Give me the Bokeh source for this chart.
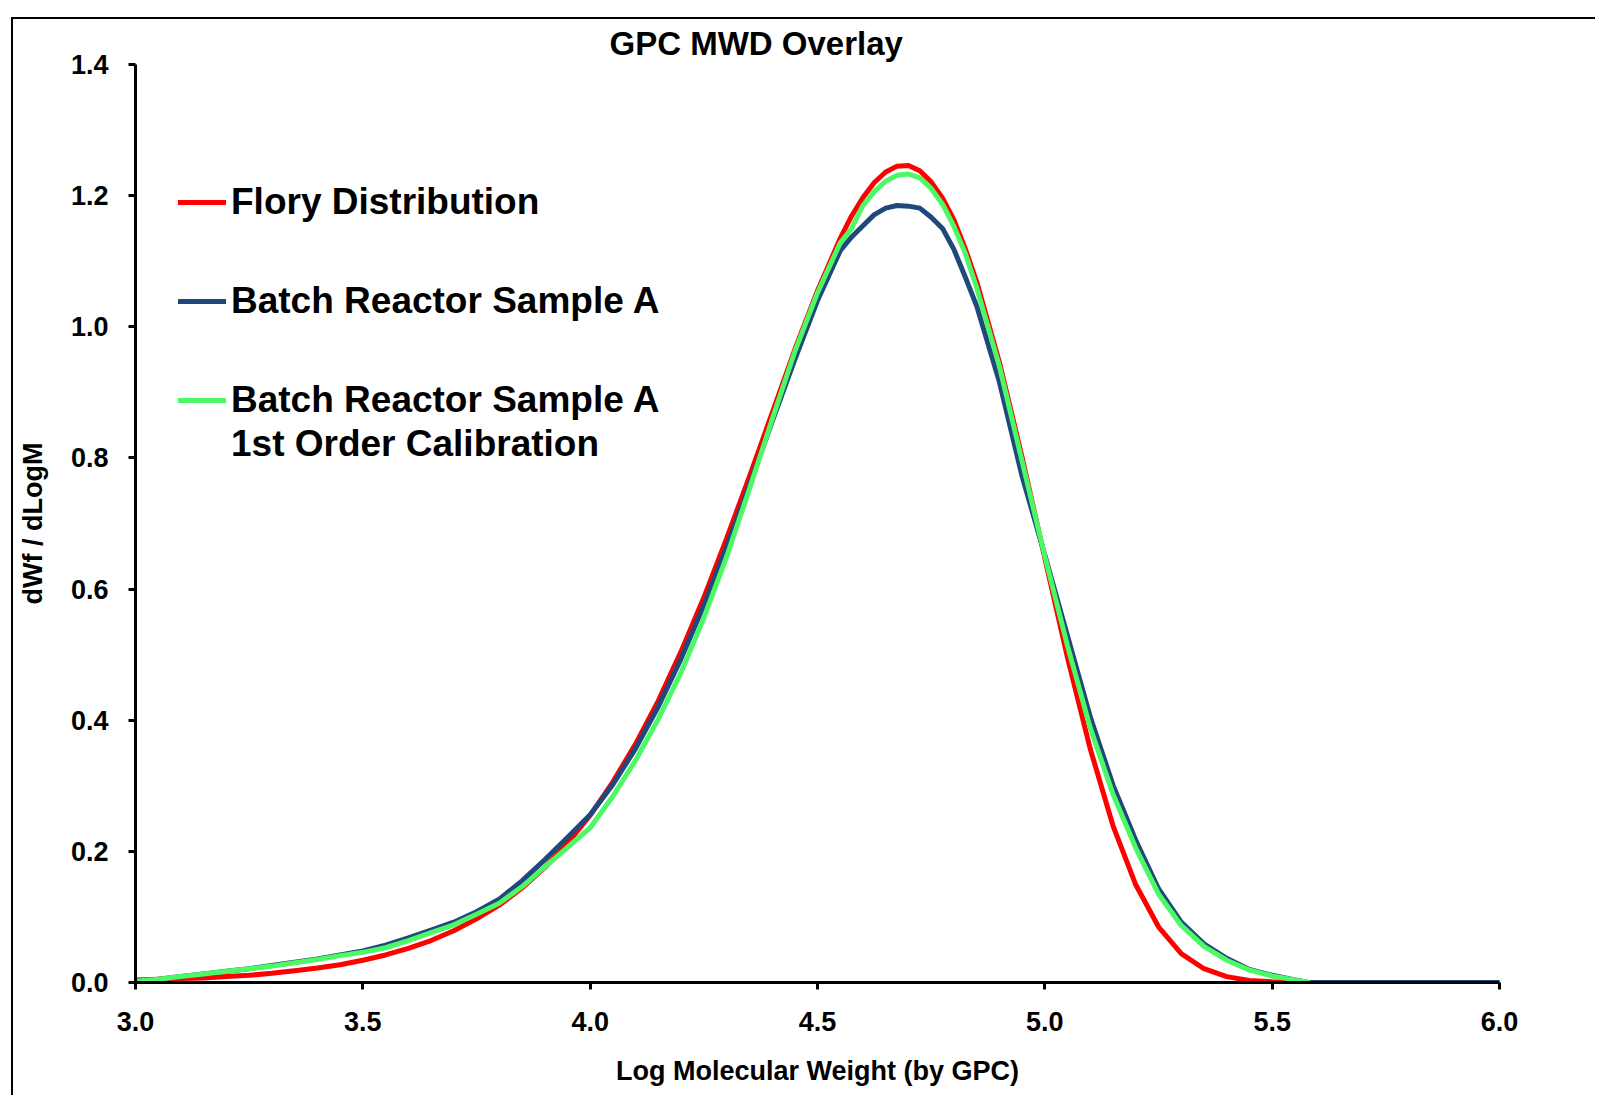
from bokeh.plotting import figure
from bokeh.models import Legend, LegendItem, FixedTicker, PrintfTickFormatter, Range1d
from bokeh.embed import file_html
from bokeh.resources import INLINE

# ---------------- data ----------------
x_ticks = [3.0, 3.5, 4.0, 4.5, 5.0, 5.5, 6.0]
y_ticks = [0.0, 0.2, 0.4, 0.6, 0.8, 1.0, 1.2, 1.4]

flory_logm = [3.00, 3.05, 3.10, 3.15, 3.20, 3.25, 3.30, 3.35, 3.40, 3.45, 3.50, 3.55, 3.60, 3.65,
              3.70, 3.75, 3.80, 3.85, 3.90, 3.95, 4.00, 4.05, 4.10, 4.15, 4.20, 4.25, 4.30, 4.35,
              4.40, 4.45, 4.50, 4.55, 4.575, 4.60, 4.625, 4.65, 4.675, 4.70, 4.725, 4.75, 4.775,
              4.80, 4.825, 4.85, 4.90, 4.95, 5.00, 5.05, 5.10, 5.15, 5.20, 5.25, 5.30, 5.35, 5.40,
              5.45, 5.50, 5.55]
flory_w = [0.004, 0.005, 0.006, 0.007, 0.009, 0.011, 0.014, 0.018, 0.022, 0.027, 0.034, 0.042, 0.052, 0.064,
           0.079, 0.097, 0.118, 0.144, 0.175, 0.212, 0.255, 0.306, 0.364, 0.430, 0.505, 0.587, 0.677, 0.771,
           0.868, 0.965, 1.055, 1.135, 1.169, 1.197, 1.220, 1.236, 1.245, 1.246, 1.238, 1.221, 1.196,
           1.163, 1.119, 1.069, 0.946, 0.801, 0.647, 0.495, 0.356, 0.239, 0.149, 0.085, 0.044, 0.021, 0.009,
           0.003, 0.001, 0.000]

batch_logm = [3.00, 3.05, 3.10, 3.15, 3.20, 3.25, 3.30, 3.35, 3.40, 3.45, 3.50, 3.55, 3.60, 3.65,
              3.70, 3.75, 3.80, 3.85, 3.90, 3.95, 4.00, 4.05, 4.10, 4.15, 4.20, 4.25, 4.30, 4.35,
              4.40, 4.45, 4.50, 4.55, 4.575, 4.60, 4.625, 4.65, 4.675, 4.70, 4.725, 4.75, 4.775,
              4.80, 4.825, 4.85, 4.90, 4.95, 5.00, 5.05, 5.10, 5.15, 5.20, 5.25, 5.30, 5.35, 5.40,
              5.45, 5.50, 5.55, 5.58, 5.60, 5.70, 5.80, 5.90, 6.00]
batch_w = [0.002, 0.005, 0.009, 0.013, 0.017, 0.021, 0.026, 0.031, 0.036, 0.042, 0.048, 0.057, 0.068, 0.080,
           0.092, 0.108, 0.127, 0.155, 0.187, 0.221, 0.256, 0.302, 0.357, 0.421, 0.494, 0.575, 0.664, 0.758,
           0.855, 0.950, 1.040, 1.116, 1.137, 1.154, 1.171, 1.181, 1.185, 1.184, 1.181, 1.167, 1.150,
           1.118, 1.076, 1.032, 0.916, 0.772, 0.652, 0.528, 0.405, 0.301, 0.217, 0.143, 0.092, 0.059, 0.037,
           0.020, 0.011, 0.004, 0.000, 0.000, 0.000, 0.000, 0.000, 0.000]

calib_logm = [3.00, 3.05, 3.10, 3.15, 3.20, 3.25, 3.30, 3.35, 3.40, 3.45, 3.50, 3.55, 3.60, 3.65,
              3.70, 3.75, 3.80, 3.85, 3.90, 3.95, 4.00, 4.05, 4.10, 4.15, 4.20, 4.25, 4.30, 4.35,
              4.40, 4.45, 4.50, 4.55, 4.575, 4.60, 4.625, 4.65, 4.675, 4.70, 4.725, 4.75, 4.775,
              4.80, 4.825, 4.85, 4.90, 4.95, 5.00, 5.05, 5.10, 5.15, 5.20, 5.25, 5.30, 5.35, 5.40,
              5.45, 5.50, 5.55, 5.58]
calib_w = [0.002, 0.005, 0.009, 0.013, 0.017, 0.021, 0.025, 0.030, 0.035, 0.041, 0.046, 0.053, 0.064, 0.076,
           0.088, 0.104, 0.121, 0.146, 0.176, 0.206, 0.236, 0.284, 0.339, 0.402, 0.473, 0.556, 0.649, 0.752,
           0.858, 0.962, 1.052, 1.128, 1.150, 1.185, 1.206, 1.222, 1.231, 1.233, 1.227, 1.211, 1.187,
           1.153, 1.112, 1.060, 0.940, 0.795, 0.650, 0.513, 0.388, 0.287, 0.205, 0.135, 0.087, 0.055, 0.034,
           0.019, 0.010, 0.004, 0.000]

series_names = ["Flory Distribution", "Batch Reactor Sample A", "Batch Reactor Sample A", "1st Order Calibration"]
series_colors = ["#FF0000", "#1F497D", "#4CF863"]

FONT = "'Liberation Sans', Arial, sans-serif"

# ---------------- figure ----------------
p = figure(width=1584, height=1078,
           x_range=Range1d(3.0, 6.0), y_range=Range1d(0.0, 1.4),
           output_backend="svg", toolbar_location=None,
           min_border_left=122, min_border_right=98, min_border_top=45, min_border_bottom=115,
           margin=(17, 0, 0, 11),
           styles={"border-left": "2px solid #000", "border-top": "2px solid #000"})
p.outline_line_color = None
p.xgrid.visible = False
p.ygrid.visible = False
p.background_fill_color = "white"
p.border_fill_color = "white"

# title
p.title.text = "GPC MWD Overlay"
p.title.align = "left"
p.title.offset = 474
p.title.text_font = FONT
p.title.text_font_style = "bold"
p.title.text_font_size = "33px"
p.title.text_color = "black"
p.title.text_line_height = 0.8
p.title.standoff = 6

r_red = p.line(flory_logm, flory_w, line_color=series_colors[0], line_width=5,
               line_join="round", line_cap="round")
r_blue = p.line(batch_logm, batch_w, line_color=series_colors[1], line_width=5,
                line_join="round", line_cap="round")
r_green = p.line(calib_logm, calib_w, line_color=series_colors[2], line_width=5,
                 line_join="round", line_cap="round")
r_ghost = p.line([], [], line_alpha=0)

# axes
for ax in (p.xaxis[0], p.yaxis[0]):
    ax.axis_line_width = 3
    ax.axis_line_color = "black"
    ax.major_tick_line_width = 3
    ax.major_tick_line_color = "black"
    ax.major_tick_out = 7
    ax.major_tick_in = 0
    ax.minor_tick_line_color = None
    ax.major_label_text_font = FONT
    ax.major_label_text_font_style = "bold"
    ax.major_label_text_font_size = "27px"
    ax.major_label_text_color = "black"
    ax.axis_label_text_font = FONT
    ax.axis_label_text_font_style = "bold"
    ax.axis_label_text_font_size = "27px"
    ax.axis_label_text_color = "black"
    ax.formatter = PrintfTickFormatter(format="%.1f")

p.xaxis.ticker = FixedTicker(ticks=x_ticks)
p.yaxis.ticker = FixedTicker(ticks=y_ticks)
p.xaxis.axis_label = "Log Molecular Weight (by GPC)"
p.yaxis.axis_label = "dWf / dLogM"
p.xaxis.major_label_standoff = 22
p.xaxis.axis_label_standoff = 22
p.yaxis.major_label_standoff = 20
p.yaxis.axis_label_standoff = 20

# legends
def make_legend(items, loc, spacing):
    lg = Legend(items=items, location=loc, orientation="vertical",
                glyph_width=48, glyph_height=44, label_height=44, spacing=spacing,
                padding=0, margin=0, label_standoff=5,
                border_line_color=None, background_fill_alpha=0,
                label_text_font=FONT, label_text_font_style="bold",
                label_text_font_size="37px", label_text_color="black")
    return lg

leg1 = make_legend([LegendItem(label=series_names[0], renderers=[r_red]),
                    LegendItem(label=series_names[1], renderers=[r_blue]),
                    LegendItem(label=series_names[2], renderers=[r_green])], (43, 560), 55)
leg2 = make_legend([LegendItem(label=series_names[3], renderers=[r_ghost])], (43, 516), 0)
p.add_layout(leg1)
p.add_layout(leg2)

open("out.html", "w").write(file_html(p, INLINE))
